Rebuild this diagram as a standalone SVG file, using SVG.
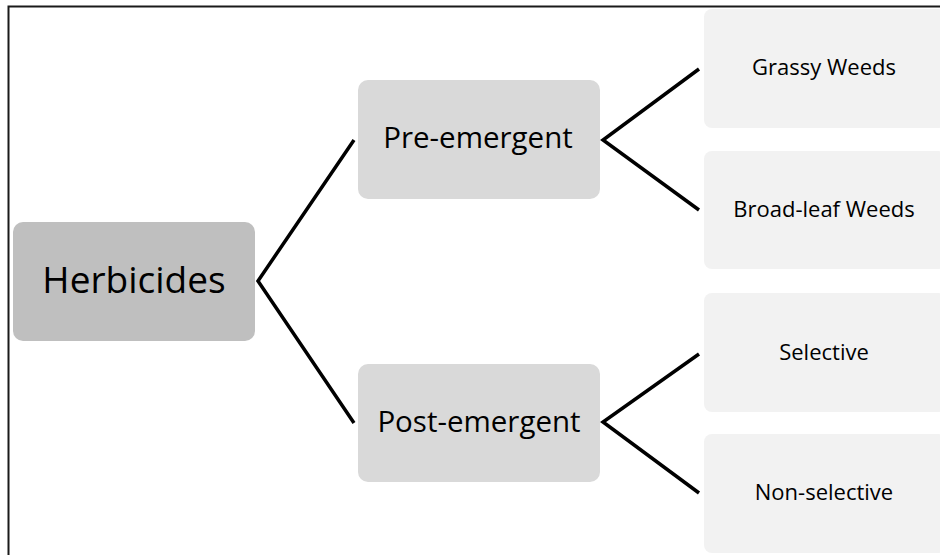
<svg xmlns="http://www.w3.org/2000/svg" width="940" height="555" viewBox="0 0 940 555">
<style>
.t{font-family:"Open Sans","Liberation Sans",sans-serif;fill:#000;text-anchor:middle}
.root{fill:#BFBFBF}
.mid{fill:#D9D9D9}
.leaf{fill:#F2F2F2}
.conn{fill:none;stroke:#000;stroke-width:3.5;stroke-linejoin:miter}
</style>
<rect x="8.5" y="6.5" width="945" height="570" fill="#fff" stroke="#1a1a1a" stroke-width="2"/>
<g id="connectors">
<polyline class="conn" points="354,140 258,281 354,423"/>
<polyline class="conn" points="699,69 603,140 699,210"/>
<polyline class="conn" points="699,354 603,422 699,493"/>
</g>
<g id="herbicides"><rect class="root" x="13" y="222" width="242" height="119" rx="10"/><text class="t" x="134" y="293" font-size="37">Herbicides</text></g>
<g id="pre-emergent"><rect class="mid" x="358" y="80" width="242" height="119" rx="10"/><text class="t" x="478" y="148" font-size="29.5">Pre-emergent</text></g>
<g id="post-emergent"><rect class="mid" x="358" y="364" width="242" height="118" rx="10"/><text class="t" x="479" y="432" font-size="29.5">Post-emergent</text></g>
<g id="grassy-weeds"><rect class="leaf" x="704" y="9" width="242" height="119" rx="8"/><text class="t" x="824" y="75" font-size="22">Grassy Weeds</text></g>
<g id="broad-leaf-weeds"><rect class="leaf" x="704" y="151" width="242" height="118" rx="8"/><text class="t" x="824" y="217" font-size="22">Broad-leaf Weeds</text></g>
<g id="selective"><rect class="leaf" x="704" y="293" width="242" height="119" rx="8"/><text class="t" x="824" y="360" font-size="22">Selective</text></g>
<g id="non-selective"><rect class="leaf" x="704" y="434" width="242" height="119" rx="8"/><text class="t" x="824" y="500" font-size="22">Non-selective</text></g>
</svg>
